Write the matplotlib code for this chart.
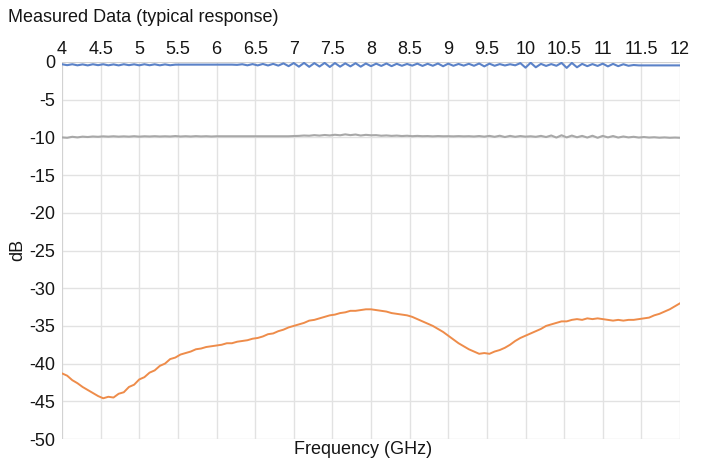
import numpy as np
import matplotlib
matplotlib.use("Agg")
import matplotlib.pyplot as plt

plt.rcParams['font.family'] = ['Liberation Sans', 'DejaVu Sans']

title = "Measured Data (typical response)"
x_label = "Frequency (GHz)"
y_label = "dB"
x_ticks = [4, 4.5, 5, 5.5, 6, 6.5, 7, 7.5, 8, 8.5, 9, 9.5, 10, 10.5, 11, 11.5, 12]
y_ticks = [0, -5, -10, -15, -20, -25, -30, -35, -40, -45, -50]

# frequency sampling grid: 4 to 12 GHz, 121 samples
freq = np.linspace(4, 12, 121)

blue = [
    -0.30, -0.42, -0.30, -0.44, -0.32, -0.45, -0.30, -0.42, -0.30, -0.44,
    -0.32, -0.45, -0.30, -0.42, -0.31, -0.44, -0.30, -0.43, -0.31, -0.44,
    -0.32, -0.43, -0.35, -0.35, -0.35, -0.35, -0.35, -0.35, -0.35, -0.35,
    -0.35, -0.35, -0.35, -0.35, -0.38, -0.30, -0.44, -0.28, -0.45, -0.26,
    -0.46, -0.25, -0.48, -0.18, -0.55, -0.14, -0.62, -0.12, -0.64, -0.15,
    -0.60, -0.12, -0.66, -0.14, -0.62, -0.18, -0.58, -0.16, -0.62, -0.20,
    -0.55, -0.22, -0.52, -0.20, -0.55, -0.24, -0.50, -0.26, -0.48, -0.22,
    -0.52, -0.24, -0.50, -0.20, -0.56, -0.22, -0.50, -0.26, -0.48, -0.24,
    -0.50, -0.20, -0.58, -0.22, -0.50, -0.28, -0.46, -0.30, -0.44, -0.15,
    -0.75, -0.10, -0.70, -0.25, -0.52, -0.28, -0.50, -0.12, -0.78, -0.12,
    -0.70, -0.25, -0.55, -0.28, -0.52, -0.22, -0.58, -0.25, -0.55, -0.30,
    -0.50, -0.40, -0.45, -0.45, -0.45, -0.45, -0.45, -0.45, -0.45, -0.45,
    -0.45,
]

gray = [
    -10.00, -10.05, -9.92, -10.00, -9.90, -9.95, -9.88, -9.92, -9.86, -9.90,
    -9.85, -9.90, -9.86, -9.90, -9.84, -9.90, -9.85, -9.88, -9.84, -9.88,
    -9.85, -9.88, -9.82, -9.88, -9.84, -9.88, -9.83, -9.87, -9.84, -9.88,
    -9.85, -9.85, -9.85, -9.85, -9.85, -9.85, -9.85, -9.85, -9.85, -9.85,
    -9.85, -9.85, -9.85, -9.85, -9.85, -9.82, -9.80, -9.75, -9.78, -9.70,
    -9.76, -9.68, -9.74, -9.65, -9.72, -9.60, -9.70, -9.62, -9.75, -9.66,
    -9.72, -9.70, -9.78, -9.74, -9.80, -9.76, -9.82, -9.78, -9.84, -9.80,
    -9.84, -9.82, -9.86, -9.82, -9.85, -9.84, -9.86, -9.83, -9.86, -9.84,
    -9.88, -9.82, -9.90, -9.80, -9.92, -9.78, -9.95, -9.80, -9.92, -9.82,
    -9.90, -9.85, -9.92, -9.80, -9.95, -9.75, -10.02, -9.72, -10.00, -9.76,
    -9.98, -9.80, -10.02, -9.78, -10.05, -9.80, -10.00, -9.82, -10.02, -9.88,
    -10.00, -9.92, -10.02, -9.95, -10.02, -9.98, -10.04, -10.00, -10.05, -10.02,
    -10.05,
]

orange = [
    -41.3, -41.6, -42.2, -42.6, -43.1, -43.5, -43.9, -44.3, -44.6, -44.4,
    -44.5, -44.0, -43.8, -43.1, -42.8, -42.1, -41.8, -41.2, -40.9, -40.3,
    -40.0, -39.4, -39.2, -38.8, -38.6, -38.4, -38.1, -38.0, -37.8, -37.7,
    -37.6, -37.5, -37.3, -37.3, -37.1, -37.0, -36.9, -36.7, -36.6, -36.4,
    -36.1, -36.0, -35.7, -35.5, -35.2, -35.0, -34.8, -34.6, -34.3, -34.2,
    -34.0, -33.8, -33.6, -33.5, -33.3, -33.2, -33.0, -33.0, -32.9, -32.8,
    -32.8, -32.9, -33.0, -33.1, -33.3, -33.4, -33.5, -33.6, -33.8, -34.1,
    -34.4, -34.7, -35.0, -35.4, -35.8, -36.3, -36.8, -37.3, -37.7, -38.1,
    -38.4, -38.7, -38.6, -38.7, -38.4, -38.2, -37.9, -37.5, -37.0, -36.6,
    -36.3, -36.0, -35.7, -35.4, -35.0, -34.8, -34.6, -34.4, -34.4, -34.2,
    -34.1, -34.2, -34.0, -34.1, -34.0, -34.1, -34.2, -34.3, -34.2, -34.3,
    -34.2, -34.2, -34.1, -34.0, -33.9, -33.6, -33.4, -33.1, -32.8, -32.4,
    -32.0,
]

fig = plt.figure(figsize=(7.05, 4.58), dpi=100)
ax = fig.add_axes([62 / 705, 1 - 439 / 458, (680 - 62) / 705, (439 - 62) / 458])

ax.plot(freq, blue, color="#5b82c8", lw=1.5, zorder=3)
ax.plot(freq, gray, color="#a8a8a8", lw=1.5, zorder=3)
ax.plot(freq, orange, color="#ee8c4a", lw=1.4, zorder=3)

ax.set_xlim(4, 12)
ax.set_ylim(-50, 0)
ax.set_xticks(x_ticks)
ax.set_xticklabels([f"{t:g}" for t in x_ticks])
ax.set_yticks(y_ticks)
ax.set_yticklabels([f"{t:g}" for t in y_ticks])
ax.xaxis.tick_top()
ax.tick_params(axis="both", length=0, labelsize=13, colors="#151515")
ax.tick_params(axis="x", pad=3)
ax.tick_params(axis="y", pad=5)
ax.grid(True, color="#e2e2e2", lw=1)
for s in ax.spines.values():
    s.set_visible(False)
ax.axvline(4, color="#cfcfcf", lw=1.2, zorder=2)
ax.axhline(0, color="#cfcfcf", lw=1.2, zorder=2)

fig.text(8 / 705, 1 - 18 / 458, title, fontsize=13, color="#151515", va="center", ha="left")
fig.text(363 / 705, 1 - 449 / 458, x_label, fontsize=13, color="#151515", va="center", ha="center")
fig.text(18 / 705, 1 - 250 / 458, y_label, fontsize=13, color="#151515", va="center", ha="center", rotation=90)

fig.savefig("out.png", dpi=100, facecolor="white")
